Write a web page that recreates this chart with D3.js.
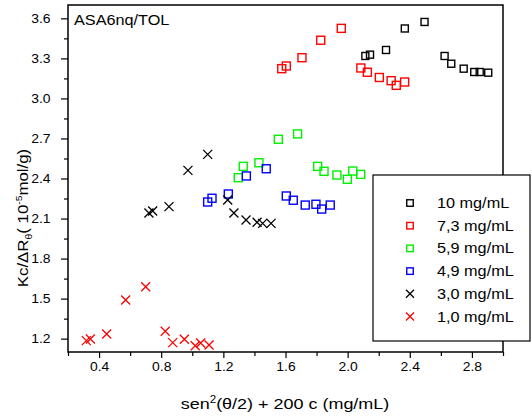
<!DOCTYPE html>
<html>
<head>
<meta charset="utf-8">
<script src="https://cdn.jsdelivr.net/npm/d3@7"></script>
<style>
body { margin: 0; background: #fff; }
text { font-family: Arial, "Liberation Sans", sans-serif; fill: #000; }
</style>
</head>
<body>
<script>
// series
var seriesNames = ["10 mg/mL", "7,3 mg/mL", "5,9 mg/mL", "4,9 mg/mL", "3,0 mg/mL", "1,0 mg/mL"];
var seriesColors = ["#000000", "#ff0000", "#00f000", "#0000ff", "#000000", "#ff0000"];
var seriesShapes = ["square", "square", "square", "square", "cross", "cross"];

var x100 = [2.114, 2.144, 2.247, 2.368, 2.495, 2.624, 2.667, 2.747, 2.815, 2.850, 2.905];
var y100 = [3.318, 3.328, 3.363, 3.524, 3.573, 3.318, 3.260, 3.223, 3.198, 3.198, 3.193];
var x73 = [1.576, 1.605, 1.706, 1.827, 1.959, 2.085, 2.127, 2.204, 2.280, 2.313, 2.367];
var y73 = [3.223, 3.243, 3.305, 3.436, 3.525, 3.228, 3.196, 3.157, 3.133, 3.098, 3.123];
var x59 = [1.296, 1.328, 1.429, 1.554, 1.678, 1.807, 1.848, 1.931, 1.998, 2.033, 2.084];
var y59 = [2.406, 2.491, 2.518, 2.694, 2.734, 2.491, 2.454, 2.426, 2.394, 2.456, 2.431];
var x49 = [1.099, 1.127, 1.232, 1.348, 1.476, 1.605, 1.650, 1.727, 1.796, 1.833, 1.888];
var y49 = [2.224, 2.252, 2.284, 2.419, 2.473, 2.269, 2.237, 2.201, 2.207, 2.171, 2.201];
var x30 = [0.721, 0.745, 0.850, 0.972, 1.099, 1.228, 1.268, 1.346, 1.417, 1.453, 1.507];
var y30 = [2.142, 2.157, 2.189, 2.461, 2.581, 2.239, 2.142, 2.089, 2.072, 2.064, 2.064];
var x10 = [0.318, 0.344, 0.449, 0.571, 0.700, 0.826, 0.874, 0.949, 1.019, 1.054, 1.108];
var y10 = [1.185, 1.197, 1.235, 1.490, 1.589, 1.255, 1.170, 1.195, 1.147, 1.167, 1.152];

var xMajor = [0.4, 0.8, 1.2, 1.6, 2.0, 2.4, 2.8];
var xMinor = [0.2, 0.6, 1.0, 1.4, 1.8, 2.2, 2.6, 3.0];
var yMajor = [1.2, 1.5, 1.8, 2.1, 2.4, 2.7, 3.0, 3.3, 3.6];
var yMinor = [1.35, 1.65, 1.95, 2.25, 2.55, 2.85, 3.15, 3.45];

var allX = [x100, x73, x59, x49, x30, x10];
var allY = [y100, y73, y59, y49, y30, y10];

var W = 532, H = 420;
var SX = 1.16; // text in the picture is a bit wide

var x = d3.scaleLinear().domain([0.2, 3.0]).range([68, 503]);
var y = d3.scaleLinear().domain([1.1, 3.7]).range([352, 5]);

var svg = d3.select("body").append("svg")
	.attr("width", W)
	.attr("height", H);

// axes
svg.append("g")
	.attr("transform", "translate(0," + y.range()[0] + ")")
	.call(d3.axisBottom(x).tickValues(xMajor).tickSize(6).tickPadding(4).tickFormat(d3.format(".1f")));
svg.append("g")
	.attr("transform", "translate(0," + y.range()[0] + ")")
	.call(d3.axisBottom(x).tickValues(xMinor).tickSize(4).tickFormat(""));

svg.append("g")
	.attr("transform", "translate(" + x.range()[0] + ",0)")
	.call(d3.axisLeft(y).tickValues(yMajor).tickSize(7).tickPadding(8).tickFormat(d3.format(".1f")));
svg.append("g")
	.attr("transform", "translate(" + x.range()[0] + ",0)")
	.call(d3.axisLeft(y).tickValues(yMinor).tickSize(4).tickFormat(""));

svg.selectAll(".domain").remove();
svg.selectAll(".tick line").attr("stroke", "#000").attr("stroke-width", 1.2);
svg.selectAll(".tick text")
	.style("font-size", "12px")
	.style("font-family", "Arial, 'Liberation Sans', sans-serif")
	.attr("fill", "#000")
	.attr("transform", "scale(" + SX + ",1)");

// frame
svg.append("rect")
	.attr("x", x.range()[0]).attr("y", y.range()[1])
	.attr("width", x.range()[1] - x.range()[0])
	.attr("height", y.range()[0] - y.range()[1])
	.attr("fill", "none").attr("stroke", "#000").attr("stroke-width", 1.5);

function drawMark(g, shape, color, cx, cy, s) {
	if (shape === "square") {
		g.append("rect")
			.attr("x", cx - s / 2).attr("y", cy - s / 2)
			.attr("width", s).attr("height", s)
			.attr("fill", "none").attr("stroke", color).attr("stroke-width", 1.4);
	} else {
		g.append("path")
			.attr("d", "M" + (cx - s / 2) + "," + (cy - s / 2) + "L" + (cx + s / 2) + "," + (cy + s / 2) +
				"M" + (cx - s / 2) + "," + (cy + s / 2) + "L" + (cx + s / 2) + "," + (cy - s / 2))
			.attr("stroke", color).attr("stroke-width", 1.3).attr("fill", "none");
	}
}

// points
var marks = svg.append("g");
allX.forEach(function(xs, si) {
	xs.forEach(function(xv, i) {
		var s = seriesShapes[si] === "square" ? (si === 0 ? 7 : 8) : 9;
		drawMark(marks, seriesShapes[si], seriesColors[si], x(xv), y(allY[si][i]), s);
	});
});

function txt(px, py, size, anchor) {
	return svg.append("text")
		.attr("transform", "translate(" + px + "," + py + ") scale(" + SX + ",1)")
		.style("font-size", size + "px")
		.attr("text-anchor", anchor);
}

// title
txt(74, 25, 14, "start").text("ASA6nq/TOL");

// axis titles
var xt = txt(285, 409, 15.5, "middle");
xt.append("tspan").text("sen");
xt.append("tspan").attr("dy", -6).style("font-size", "10px").text("2");
xt.append("tspan").attr("dy", 6).text("(\u03b8/2) + 200 c (mg/mL)");

var yt = svg.append("text")
	.attr("transform", "translate(28,218) rotate(-90) scale(" + SX + ",1)")
	.style("font-size", "14.5px")
	.attr("text-anchor", "middle");
yt.append("tspan").text("Kc/\u0394R");
yt.append("tspan").attr("dy", 4).style("font-size", "9px").text("\u03b8");
yt.append("tspan").attr("dy", -4).text("( 10");
yt.append("tspan").attr("dy", -6).style("font-size", "9px").text("-5");
yt.append("tspan").attr("dy", 6).text("mol/g)");

// legend
var lg = svg.append("g");
lg.append("rect")
	.attr("x", 373).attr("y", 175).attr("width", 157).attr("height", 166)
	.attr("fill", "#fff").attr("stroke", "#000").attr("stroke-width", 1.2);
seriesNames.forEach(function(name, i) {
	var ry = 203 + i * 22.7;
	drawMark(lg, seriesShapes[i], seriesColors[i], 410, ry, seriesShapes[i] === "square" ? 6.5 : 8);
	txt(437, ry + 5, 14, "start").text(name);
});
</script>
</body>
</html>
